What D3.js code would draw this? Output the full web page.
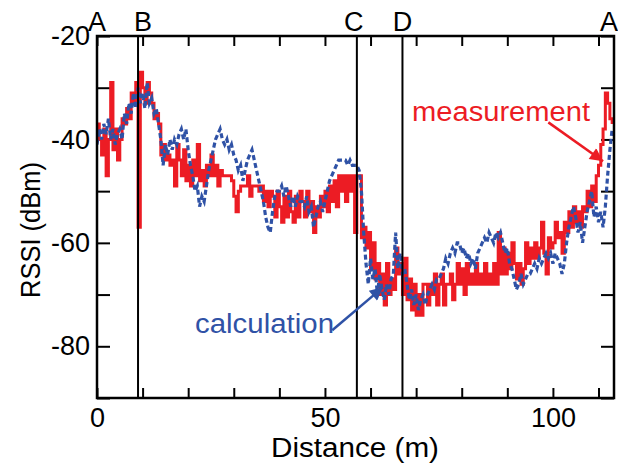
<!DOCTYPE html>
<html lang="en">
<head>
<meta charset="utf-8" />
<title>RSSI vs distance</title>
<style>
html,body{margin:0;background:#fff}
svg{display:block;font-family:"Liberation Sans",Arial,sans-serif}
.tick line{stroke:#000;stroke-width:2px}
.tick text{font-size:27px;fill:#000}
</style>
<script src="https://cdn.jsdelivr.net/npm/d3@7/dist/d3.min.js"></script>
</head>
<body>
<div id="chart"></div>

<script>
/* ------------------------------- data --------------------------------- */
const sampleStep = 0.5;                       // metres between samples

// measured RSSI (dBm), one value every 0.5 m from 0 to 113 m
const measured = [
  -37,-40,-43,-38,-47,-40,-29,-42,-38,-44,
  -40,-36,-37,-34,-36,-31,-33,-29,-57,-27,
  -30,-33,-29,-31,-33,-36,-35,-37,-43,-41,
  -44,-43,-45,-44,-49,-41,-44,-47,-42,-48,
  -45,-49,-44,-47,-41,-48,-46,-49,-45,-47,
  -43,-47,-45,-49,-46,-47,-47,-47,-47,-48,
  -51,-54,-50,-49,-49,-49,-47,-51,-49,-49,
  -49,-50,-49,-52,-50,-53,-50,-51,-55,-50,
  -53,-56,-51,-55,-50,-54,-56,-51,-55,-50,
  -52,-55,-50,-54,-52,-58,-53,-55,-51,-53,
  -50,-54,-49,-52,-48,-53,-47,-50,-47,-52,
  -47,-50,-47,-58,-47,-47,-59,-57,-61,-58,
  -65,-60,-67,-64,-70,-66,-72,-64,-70,-67,
  -69,-61,-66,-64,-70,-63,-71,-67,-73,-68,
  -74,-70,-74,-68,-68,-72,-68,-70,-66,-72,
  -68,-66,-72,-68,-68,-66,-71,-68,-64,-68,
  -65,-70,-64,-68,-66,-68,-64,-68,-66,-68,
  -64,-68,-66,-68,-64,-68,-58,-66,-61,-66,
  -62,-65,-60,-64,-67,-64,-68,-65,-60,-64,
  -61,-63,-60,-63,-61,-56,-62,-66,-59,-61,
  -60,-56,-59,-58,-62,-56,-58,-54,-57,-53,
  -56,-54,-57,-53,-54,-50,-53,-49,-52,-47,
  -45,-41,-38,-31,-33,-36,-37
];

// calculated RSSI (dBm), same sampling
const calculated = [
  -41,-38,-40,-37,-39,-36,-40,-38,-41,-39,
  -38,-40,-35,-37,-33,-35,-31,-34,-30,-33,
  -31,-34,-29,-33,-32,-35,-34,-37,-40,-45,
  -41,-43,-40,-42,-40,-41,-39,-38,-40,-38,
  -42,-45,-47,-50,-49,-53,-51,-52,-49,-46,
  -44,-42,-40,-39,-38,-40,-41,-40,-42,-41,
  -43,-44,-46,-45,-48,-46,-44,-43,-42,-44,
  -46,-48,-50,-52,-55,-57,-58,-54,-51,-50,
  -50,-49,-51,-49,-51,-53,-51,-53,-51,-52,
  -52,-53,-51,-54,-53,-57,-55,-53,-52,-54,
  -52,-50,-48,-47,-46,-45,-44,-44,-44,-44,
  -45,-44,-45,-45,-45,-46,-50,-58,-64,-68,
  -63,-67,-65,-70,-66,-69,-71,-68,-70,-67,
  -66,-58,-65,-62,-66,-65,-68,-71,-69,-72,
  -70,-73,-71,-70,-72,-70,-69,-68,-69,-67,
  -67,-66,-65,-63,-64,-62,-61,-62,-60,-60,
  -62,-61,-63,-62,-64,-63,-65,-62,-61,-60,
  -59,-60,-58,-59,-60,-58,-59,-58,-60,-62,
  -61,-64,-65,-67,-69,-68,-66,-68,-67,-66,
  -66,-65,-64,-65,-63,-64,-63,-62,-63,-62,
  -64,-62,-63,-64,-66,-64,-60,-57,-55,-53,
  -55,-58,-56,-60,-57,-54,-52,-50,-55,-53,
  -56,-54,-57,-53,-47,-42,-38
];

// reference points along the route (m)
const pointLabels = ["A", "B", "C", "D", "A"];
const pointDist   = [0, 9, 57, 67, 113.4];

const xLabelTicks = [0, 50, 100];
const yLabelTicks = [-20, -40, -60, -80];

/* ------------------------------ layout -------------------------------- */
const W = 618, H = 464;
const m = {top: 36, right: 4, bottom: 66, left: 97};
const RED = "#ec1c24", BLUE = "#2f52a6";

const x = d3.scaleLinear().domain([0, 113.4]).range([m.left, W - m.right]);
const y = d3.scaleLinear().domain([-90, -20]).range([H - m.bottom, m.top]);

const svg = d3.select("#chart").append("svg")
  .attr("width", W).attr("height", H);

svg.append("clipPath").attr("id", "plot")
  .append("rect")
  .attr("x", m.left).attr("y", m.top)
  .attr("width", x.range()[1] - m.left).attr("height", y.range()[0] - m.top);

/* ------------------------------- axes --------------------------------- */
const xt = d3.range(0, 111, 10), yt = d3.range(-90, -19, 10);
const fmtX = d => xLabelTicks.includes(d) ? d : "";
const fmtY = d => yLabelTicks.includes(d) ? d : "";

svg.append("g").attr("transform", `translate(0,${y(-90)})`)
  .call(d3.axisBottom(x).tickValues(xt).tickFormat(fmtX)
        .tickSizeInner(-10).tickSizeOuter(0).tickPadding(10))
  .call(g => g.select(".domain").remove());

svg.append("g").attr("transform", `translate(0,${y(-20)})`)
  .call(d3.axisTop(x).tickValues(xt).tickFormat("")
        .tickSizeInner(-10).tickSizeOuter(0))
  .call(g => g.select(".domain").remove());

svg.append("g").attr("transform", `translate(${x(0)},0)`)
  .call(d3.axisLeft(y).tickValues(yt).tickFormat(fmtY)
        .tickSizeInner(-13).tickSizeOuter(0).tickPadding(7))
  .call(g => g.select(".domain").remove());

svg.append("g").attr("transform", `translate(${x.range()[1]},0)`)
  .call(d3.axisRight(y).tickValues(yt).tickFormat("")
        .tickSizeInner(-13).tickSizeOuter(0))
  .call(g => g.select(".domain").remove());

svg.selectAll(".tick text").attr("font-family", null).attr("font-size", null);

/* ------------------------------ series -------------------------------- */
const lineGen = curve => d3.line()
  .x((v, i) => x(i * sampleStep))
  .y(v => y(v))
  .curve(curve);

const plotG = svg.append("g").attr("clip-path", "url(#plot)");

plotG.append("path").datum(measured)
  .attr("d", lineGen(d3.curveStepAfter))
  .attr("fill", "none").attr("stroke", RED)
  .attr("stroke-width", 3).attr("stroke-linejoin", "miter");

plotG.append("path").datum(calculated)
  .attr("d", lineGen(d3.curveLinear))
  .attr("fill", "none").attr("stroke", BLUE)
  .attr("stroke-width", 3.2).attr("stroke-dasharray", "5,3");

/* -------------------------- reference lines --------------------------- */
svg.append("g").selectAll("line")
  .data(pointDist.slice(1, 4))
  .join("line")
  .attr("x1", d => x(d)).attr("x2", d => x(d))
  .attr("y1", y(-20)).attr("y2", y(-90))
  .attr("stroke", "#000").attr("stroke-width", 2);

const labelShift = [0, 5, -3, 0, -5];
svg.append("g").selectAll("text")
  .data(pointLabels)
  .join("text")
  .attr("x", (d, i) => x(pointDist[i]) + labelShift[i])
  .attr("y", 31)
  .attr("text-anchor", "middle")
  .attr("font-size", 27)
  .text(d => d);

// frame
svg.append("rect")
  .attr("x", m.left).attr("y", m.top)
  .attr("width", x.range()[1] - m.left).attr("height", y.range()[0] - m.top)
  .attr("fill", "none").attr("stroke", "#000").attr("stroke-width", 2.5);

/* ---------------------------- annotations ----------------------------- */
const defs = svg.append("defs");
[["headRed", RED], ["headBlue", BLUE]].forEach(([id, c]) => {
  defs.append("marker").attr("id", id)
    .attr("viewBox", "0 0 10 10").attr("refX", 10).attr("refY", 5)
    .attr("markerUnits", "userSpaceOnUse")
    .attr("markerWidth", 20).attr("markerHeight", 13)
    .attr("orient", "auto")
    .append("path").attr("d", "M0,0L10,5L0,10z").attr("fill", c);
});

const notes = [
  {text: "measurement", color: RED,  head: "headRed",
   tx: 69.1, ty: -36.4, len: 178, from: [99.0, -36.7], to: [111.0, -44.2]},
  {text: "calculation", color: BLUE, head: "headBlue",
   tx: 21.5, ty: -77.4, len: 139, from: [51.6, -76.9], to: [62.7, -68.6]}
];

notes.forEach(n => {
  svg.append("text")
    .attr("x", x(n.tx)).attr("y", y(n.ty))
    .attr("font-size", 27).attr("fill", n.color)
    .attr("textLength", n.len).attr("lengthAdjust", "spacingAndGlyphs")
    .text(n.text);
  svg.append("line")
    .attr("x1", x(n.from[0])).attr("y1", y(n.from[1]))
    .attr("x2", x(n.to[0])).attr("y2", y(n.to[1]))
    .attr("stroke", n.color).attr("stroke-width", 2.5)
    .attr("marker-end", `url(#${n.head})`);
});

/* ---------------------------- axis titles ----------------------------- */
svg.append("text")
  .attr("x", 355).attr("y", 457)
  .attr("text-anchor", "middle").attr("font-size", 27)
  .attr("textLength", 168).attr("lengthAdjust", "spacingAndGlyphs")
  .text("Distance (m)");

svg.append("text")
  .attr("transform", "translate(40,230) rotate(-90)")
  .attr("text-anchor", "middle").attr("font-size", 27)
  .attr("textLength", 136).attr("lengthAdjust", "spacingAndGlyphs")
  .text("RSSI (dBm)");
</script>
</body>
</html>
